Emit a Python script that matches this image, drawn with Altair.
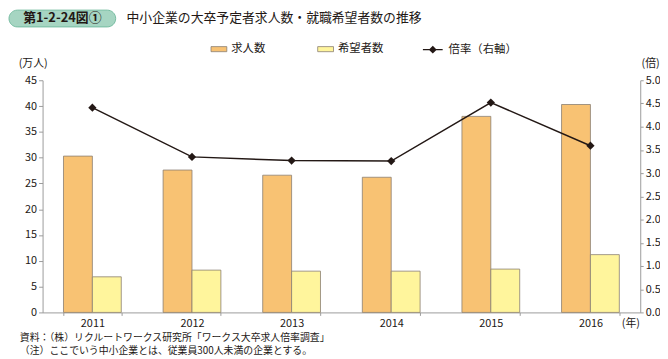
import altair as alt
import pandas as pd

years = ["2011", "2012", "2013", "2014", "2015", "2016"]
openings = [30.3, 27.6, 26.6, 26.2, 38.0, 40.3]
applicants = [6.9, 8.2, 8.0, 8.0, 8.4, 11.2]
ratio = [4.41, 3.35, 3.27, 3.26, 4.52, 3.59]
series_names = ["求人数", "希望者数"]
ratio_name = "倍率（右軸）"
left_ticks = [0, 5, 10, 15, 20, 25, 30, 35, 40, 45]
right_ticks = [0, 0.5, 1.0, 1.5, 2.0, 2.5, 3.0, 3.5, 4.0, 4.5, 5.0]
fig_label = "第1-2-24図①"
fig_title = "中小企業の大卒予定者求人数・就職希望者数の推移"
notes = ["資料：（株）リクルートワークス研究所「ワークス大卒求人倍率調査」",
         "（注）ここでいう中小企業とは、従業員300人未満の企業とする。"]

FONT = "Noto Sans CJK JP"
TXT = "#231815"
AX = "#9a9a9a"

bars_df = pd.DataFrame({
    "year": years + years,
    "series": [series_names[0]] * len(years) + [series_names[1]] * len(years),
    "value": openings + applicants,
})
line_df = pd.DataFrame({"year": years, "ratio": ratio, "name": [ratio_name] * len(years)})
one = pd.DataFrame({"a": [0]})

x_enc = alt.X("year:N", sort=years,
              scale=alt.Scale(paddingInner=0.42, paddingOuter=0.21),
              axis=alt.Axis(title="(年)", titleX=595, titleY=11, titleAngle=0,
                            titleAlign="center", titleBaseline="middle",
                            titleFontWeight="normal", titleFontSize=11, titleColor=TXT,
                            labelAngle=0, labelFontSize=11, labelColor=TXT,
                            labelPadding=2, tickBand="extent", tickSize=3,
                            domainColor=AX, tickColor=AX))

bars = alt.Chart(bars_df).mark_bar(stroke="#8a7f72", strokeWidth=0.8).encode(
    x=x_enc,
    xOffset=alt.XOffset("series:N", sort=series_names,
                        scale=alt.Scale(paddingInner=0, paddingOuter=0)),
    y=alt.Y("value:Q", scale=alt.Scale(domain=[0, 45]),
            axis=alt.Axis(values=left_ticks, title="(万人)", titleAngle=0,
                          titleX=-10, titleY=-17, titleAlign="center",
                          titleBaseline="middle", titleFontWeight="normal",
                          titleFontSize=11, titleColor=TXT,
                          labelFontSize=11, labelColor=TXT, labelPadding=2,
                          tickSize=4, domainColor=AX, tickColor=AX, grid=False)),
    color=alt.Color("series:N",
                    scale=alt.Scale(domain=series_names, range=["#F8C273", "#FFF59C"]),
                    legend=alt.Legend(title=None, orient="none", legendX=170, legendY=-40,
                                      direction="horizontal",
                                      symbolType="M-1,-0.32H1V0.32H-1Z", symbolSize=256,
                                      symbolStrokeColor="#8a7f72", symbolStrokeWidth=0.8,
                                      labelOffset=4, columnPadding=50,
                                      labelFontSize=11.5, labelColor=TXT)),
)

line = alt.Chart(line_df).mark_line(color=TXT, strokeWidth=1.5).encode(
    x=alt.X("year:N", sort=years),
    y=alt.Y("ratio:Q", scale=alt.Scale(domain=[0, 5]),
            axis=alt.Axis(orient="right", values=right_ticks, format=".1f",
                          title="(倍)", titleAngle=0, titleX=10, titleY=-17,
                          titleAlign="center", titleBaseline="middle",
                          titleFontWeight="normal", titleFontSize=11, titleColor=TXT,
                          labelFontSize=11, labelColor=TXT, labelPadding=2,
                          tickSize=3, domainColor=AX, tickColor=AX, grid=False)),
)

points = alt.Chart(line_df).mark_point(shape="diamond", filled=True, size=70,
                                       color=TXT, opacity=1).encode(
    x=alt.X("year:N", sort=years),
    y=alt.Y("ratio:Q", scale=alt.Scale(domain=[0, 5]), axis=None),
    opacity=alt.Opacity("name:N", scale=alt.Scale(domain=[ratio_name], range=[1]),
                        legend=alt.Legend(title=None, orient="none", legendX=384, legendY=-42,
                                          symbolType="M-1,-0.07H1V0.07H-1ZM0,-0.4L0.4,0L0,0.4L-0.4,0Z",
                                          symbolSize=400, symbolFillColor=TXT,
                                          labelOffset=5, labelFontSize=11.5, labelColor=TXT)),
)

box = alt.Chart(one).mark_rect(fill="#a6d5c2", stroke="#74bba0", strokeWidth=1,
                               cornerRadius=9).encode(
    x=alt.value(-34), x2=alt.value(74), y=alt.value(-71), y2=alt.value(-54))
box_text = alt.Chart(one).mark_text(text=fig_label, font=FONT, fontSize=13,
                                    fontWeight="bold", color=TXT, align="center",
                                    baseline="middle").encode(
    x=alt.value(20), y=alt.value(-62.5))
title_text = alt.Chart(one).mark_text(text=fig_title, font=FONT, fontSize=13,
                                      color=TXT, align="left", baseline="middle").encode(
    x=alt.value(85), y=alt.value(-62.5))
note1 = alt.Chart(one).mark_text(text=notes[0], font=FONT, fontSize=10, color=TXT,
                                 align="left", baseline="middle").encode(
    x=alt.value(-23), y=alt.value(260.5))
note2 = alt.Chart(one).mark_text(text=notes[1], font=FONT, fontSize=10, color=TXT,
                                 align="left", baseline="middle").encode(
    x=alt.value(-23), y=alt.value(274))

chart = alt.layer(bars, line, points, box, box_text, title_text, note1, note2).resolve_scale(
    y="independent"
).properties(
    width=605, height=235,
    padding={"left": 35, "top": 71, "right": 20, "bottom": 45},
    autosize=alt.AutoSizeParams(type="none"),
).configure(font=FONT).configure_view(stroke=None)

chart.save("out.html", embed_options={"renderer": "svg", "actions": False})
